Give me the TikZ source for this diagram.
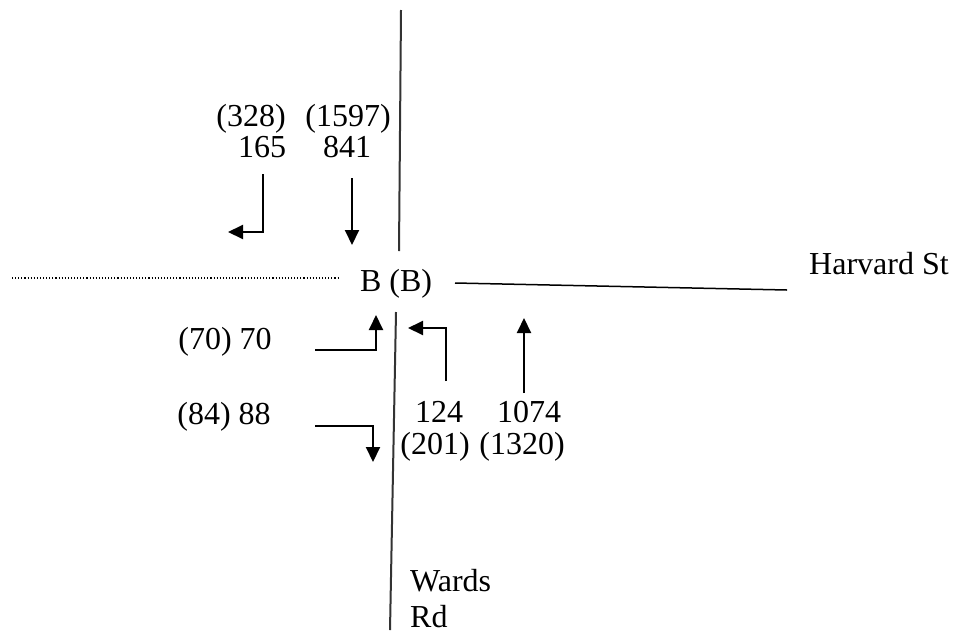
\documentclass[tikz,border=0pt]{standalone}
\usepackage{fontspec}
\setmainfont{Liberation Serif}
\usetikzlibrary{arrows.meta}
\begin{document}
\begin{tikzpicture}[x=1pt,y=-1pt,
  lbl/.style={inner sep=0pt,font=\fontsize{32}{36}\selectfont},
  road/.style={line width=2pt,draw=black!80},
  move/.style={line width=2pt,-{Triangle[length=15pt,width=14pt]}}]
\useasboundingbox (0,0) rectangle (955,635);
% streets
\coordinate (ntop) at (401,10);
\coordinate (nbot) at (399,251);
\coordinate (stop) at (396,312);
\coordinate (sbot) at (390,630);
\coordinate (wl) at (12,278);
\coordinate (wr) at (340,278);
\coordinate (el) at (455,283);
\coordinate (er) at (787,290);
\draw[road] (ntop) -- (nbot);
\draw[road] (stop) -- (sbot);
\draw[line width=1.1pt,dotted] (wl) -- (wr);
\draw[line width=1.5pt] (el) -- (er);
% labels
\node[lbl] (los) at (396,284) {B (B)};
\node[lbl,anchor=west] (harv) at (809,264) {Harvard St};
\node[lbl,anchor=west] (wards) at (410,581) {Wards};
\node[lbl,anchor=base west] (rd) at (410,627) {Rd};
% southbound approach
\node[lbl] (sbrp) at (251,119) {(328)};
\node[lbl] (sbtp) at (348,119) {(1597)};
\node[lbl] (sbr) at (262,147) {165};
\node[lbl] (sbt) at (347,147) {841};
\coordinate (r1a) at (263,174);
\coordinate (r1b) at (263,232);
\coordinate (r1c) at (228,232);
\draw[move] (r1a) -- (r1b) -- (r1c);
\coordinate (t1a) at (352,178);
\coordinate (t1b) at (352,245);
\draw[move] (t1a) -- (t1b);
% eastbound approach
\node[lbl] (ebl) at (225,342) {(70) 70};
\node[lbl] (ebr) at (224,417) {(84) 88};
\coordinate (l2a) at (315,350);
\coordinate (l2b) at (376,350);
\coordinate (l2c) at (376,315);
\draw[move] (l2a) -- (l2b) -- (l2c);
\coordinate (r2a) at (315,426);
\coordinate (r2b) at (373,426);
\coordinate (r2c) at (373,462);
\draw[move] (r2a) -- (r2b) -- (r2c);
% northbound approach
\node[lbl] (nbl) at (439,412) {124};
\node[lbl] (nblp) at (435,447) {(201)};
\node[lbl] (nbt) at (529,412) {1074};
\node[lbl] (nbtp) at (522,447) {(1320)};
\coordinate (l3a) at (446,381);
\coordinate (l3b) at (446,328);
\coordinate (l3c) at (408,328);
\draw[move] (l3a) -- (l3b) -- (l3c);
\coordinate (t3a) at (524,393);
\coordinate (t3b) at (524,318);
\draw[move] (t3a) -- (t3b);
\end{tikzpicture}
\end{document}
